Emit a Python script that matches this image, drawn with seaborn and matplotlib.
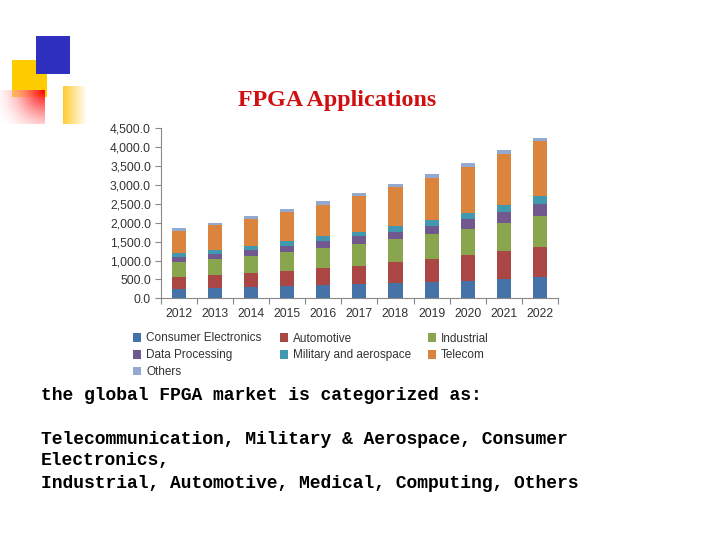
import numpy as np
import pandas as pd
import matplotlib
matplotlib.use("Agg")
import matplotlib.pyplot as plt
from matplotlib.colors import LinearSegmentedColormap
from matplotlib.patches import Rectangle, Patch
import seaborn as sns

years = [2012, 2013, 2014, 2015, 2016, 2017, 2018, 2019, 2020, 2021, 2022]
consumer = [247, 282, 300, 326, 353, 379, 406, 432, 459, 512, 564]
automotive = [318, 335, 370, 397, 450, 476, 556, 609, 688, 741, 794]
industrial = [388, 423, 450, 503, 529, 582, 609, 661, 688, 741, 820]
data_proc = [141, 132, 159, 159, 185, 212, 185, 212, 265, 291, 318]
military = [106, 106, 106, 132, 132, 106, 159, 159, 159, 185, 212]
telecom = [573, 653, 714, 767, 811, 953, 1023, 1111, 1217, 1349, 1455]
others = [88, 62, 79, 79, 115, 79, 88, 106, 106, 106, 79]

series_names = ["Consumer Electronics", "Automotive", "Industrial", "Data Processing",
                "Military and aerospace", "Telecom", "Others"]
series_values = [consumer, automotive, industrial, data_proc, military, telecom, others]
series_colors = ["#4572A7", "#AA4643", "#89A54E", "#71588F", "#4198AF", "#DB843D", "#93A9CF"]
yticks = [0, 500, 1000, 1500, 2000, 2500, 3000, 3500, 4000, 4500]

W, H = 720, 540
sns.set_theme(style="white")
plt.rcParams["font.family"] = ["Liberation Sans", "DejaVu Sans"]
fig = plt.figure(figsize=(7.2, 5.4), dpi=100, facecolor="white")

# slide decoration, in pixel coordinates
deco = fig.add_axes([0, 0, 1, 1], zorder=0)
deco.set_xlim(0, W)
deco.set_ylim(H, 0)
deco.axis("off")
deco.add_patch(Rectangle((12, 60), 35, 37, fc="#FFCC00", ec="none", zorder=1))
deco.add_patch(Rectangle((36, 36), 34, 38, fc="#3030C0", ec="none", zorder=3))
xx, yy = np.meshgrid(np.linspace(0, 1, 80), np.linspace(0, 1, 80))
red = LinearSegmentedColormap.from_list(
    "r", [(0, (1, 0, 0, 1)), (0.35, (1, 0.45, 0.45, 0.85)), (1, (1, 1, 1, 0))])
deco.imshow(np.clip(np.hypot((1 - xx) * 1.1, yy * 0.8) / 1.36, 0, 1), cmap=red, vmin=0, vmax=1,
            extent=(0, 45, 124, 90), aspect="auto", zorder=2)
yellow = LinearSegmentedColormap.from_list("y", [(1, 0.8, 0.2, 1), (1, 1, 1, 1)])
deco.imshow(xx, cmap=yellow, vmin=0, vmax=1, extent=(63, 87, 124, 86), aspect="auto", zorder=2)
deco.set_xlim(0, W)
deco.set_ylim(H, 0)

# chart
x0, x1, ytop, ybot = 160.7, 558, 128.3, 298.3
ax = fig.add_axes([x0 / W, 1 - ybot / H, (x1 - x0) / W, (ybot - ytop) / H], zorder=2)
ax.patch.set_alpha(0)
df = pd.DataFrame(dict(zip(series_names, series_values)), index=years)
bottom = np.zeros(len(years))
for name, color in zip(series_names, series_colors):
    sns.barplot(x=[str(y) for y in years], y=df[name].values, color=color, width=0.39,
                bottom=bottom, saturation=1, ax=ax, errorbar=None, linewidth=0)
    bottom = bottom + df[name].values
ax.set_xlim(-0.5, len(years) - 0.5)
ax.set_ylim(0, 4500)
ax.set_yticks(yticks)
ax.set_yticklabels([f"{v:,.1f}" for v in yticks], fontsize=8.7, color="#333333")
ax.set_xticks(np.arange(len(years) + 1) - 0.5, minor=True)
ax.tick_params(axis="x", which="minor", length=4, width=0.8, color="#888888", bottom=True)
ax.tick_params(axis="x", which="major", length=0, pad=7, labelsize=8.7, labelcolor="#333333")
ax.tick_params(axis="y", length=4, width=0.8, color="#888888", left=True, pad=3)
ax.set_xlabel("")
ax.set_ylabel("")
sns.despine(ax=ax)
for s in ("left", "bottom"):
    ax.spines[s].set_color("#888888")
    ax.spines[s].set_linewidth(0.8)

# legend, three columns laid out row by row
columns = [([0, 3, 6], 133), ([1, 4], 280), ([2, 5], 427.5)]
for idx, xp in columns:
    handles = [Patch(fc=series_colors[i], ec="none", label=series_names[i]) for i in idx]
    fig.legend(handles=handles, loc="upper left", bbox_to_anchor=(xp / W, 1 - 332.5 / H),
               bbox_transform=fig.transFigure, frameon=False, fontsize=8.45, labelcolor="#333333",
               handlelength=0.72, handleheight=0.72, handletextpad=0.42, labelspacing=0.42,
               borderpad=0, borderaxespad=0)

# slide text
fig.text(337.5 / W, 1 - 100.5 / H, "FPGA Applications", color="#D01010", fontsize=17.3,
         fontweight="bold", family="Liberation Serif", ha="center", va="center")
for yp, line in [(396, "the global FPGA market is categorized as:"),
                 (440, "Telecommunication, Military & Aerospace, Consumer"),
                 (461, "Electronics,"),
                 (483, "Industrial, Automotive, Medical, Computing, Others")]:
    fig.text(41 / W, 1 - yp / H, line, family="Liberation Mono", fontsize=13,
             color="black", ha="left", va="center", fontweight="bold")

fig.savefig("out.png", dpi=100)
